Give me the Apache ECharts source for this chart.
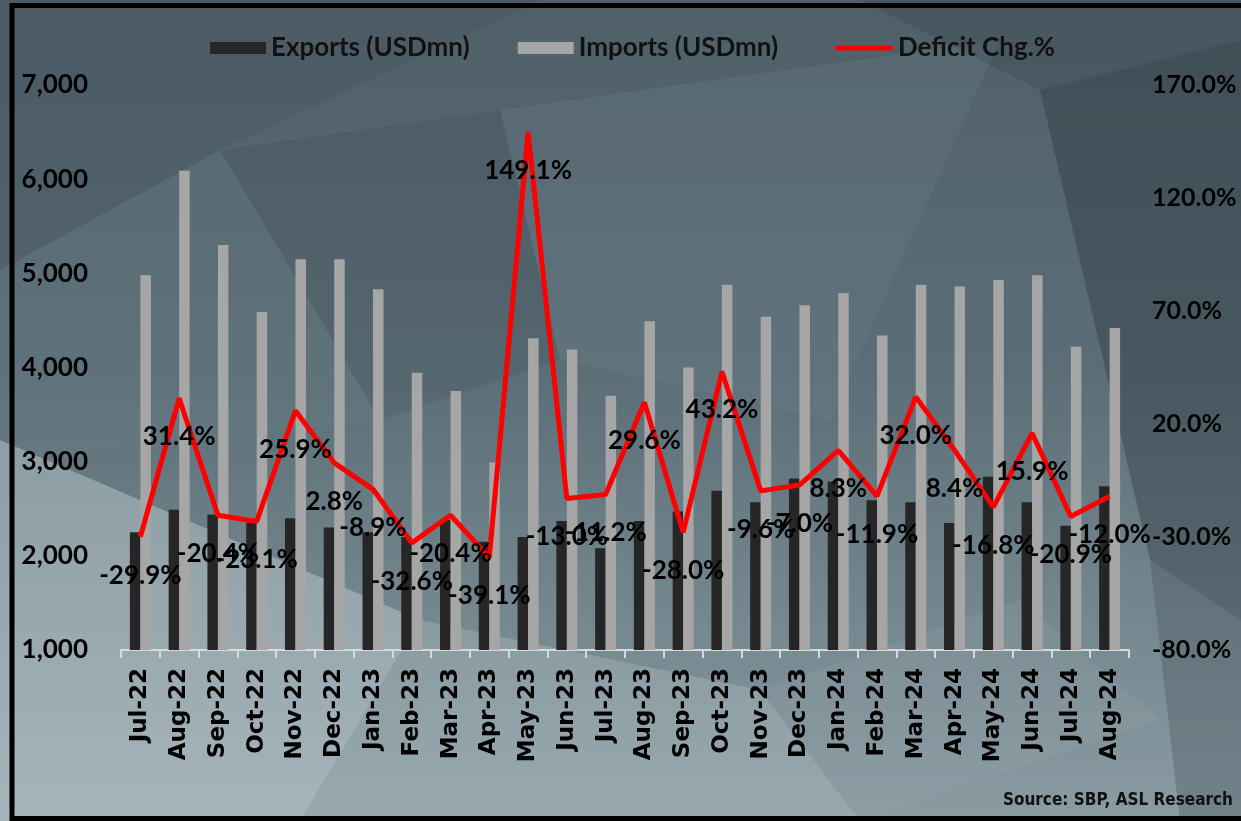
<!DOCTYPE html>
<html>
<head>
	<meta charset="utf-8">
	<title>Exports, Imports and Deficit change</title>
	<script src="https://cdn.jsdelivr.net/npm/echarts@6/dist/echarts.min.js"></script>
	<style>
		html, body { margin: 0; padding: 0; background: #55666f; }
		#chart { width: 1241px; height: 821px; }
	</style>
</head>
<body>
	<div id="chart"></div>
	<script>
		// months on the x axis
		var months = ['Jul-22', 'Aug-22', 'Sep-22', 'Oct-22', 'Nov-22', 'Dec-22', 'Jan-23', 'Feb-23', 'Mar-23',
			'Apr-23', 'May-23', 'Jun-23', 'Jul-23', 'Aug-23', 'Sep-23', 'Oct-23', 'Nov-23', 'Dec-23',
			'Jan-24', 'Feb-24', 'Mar-24', 'Apr-24', 'May-24', 'Jun-24', 'Jul-24', 'Aug-24']

		// USD mn
		var exportsData = [2250, 2490, 2440, 2350, 2400, 2300, 2250, 2200, 2380, 2150, 2200, 2370, 2080,
			2370, 2470, 2690, 2570, 2820, 2790, 2590, 2570, 2350, 2840, 2570, 2320, 2740]
		var importsData = [4980, 6090, 5300, 4590, 5150, 5150, 4830, 3945, 3750, 2990, 4310, 4190, 3700,
			4490, 4000, 4880, 4540, 4660, 4790, 4340, 4880, 4860, 4930, 4980, 4220, 4420]

		// deficit change, %
		var deficitChg = [-29.9, 31.4, -20.4, -23.1, 25.9, 2.8, -8.9, -32.6, -20.4, -39.1, 149.1, -13.0, -11.2,
			29.6, -28.0, 43.2, -9.6, -7.0, 8.3, -11.9, 32.0, 8.4, -16.8, 15.9, -20.9, -12.0]

		// right axis tick labels
		var pctTicks = [-80, -30, 20, 70, 120, 170]

		var mainFont = 'Lato'
		var chart = echarts.init(document.getElementById('chart'))

		// low-poly backdrop, decoration only
		function poly(pts, fill) {
			return { type: 'polygon', z: -10, silent: true, shape: { points: pts }, style: { fill: fill } }
		}

		var backdrop = [
			{
				type: 'rect', z: -11, silent: true,
				shape: { x: 0, y: 0, width: 1241, height: 821 },
				style: {
					fill: new echarts.graphic.LinearGradient(0, 0, 0, 1, [
						{ offset: 0, color: '#4f5f68' },
						{ offset: 0.45, color: '#5b6e77' },
						{ offset: 1, color: '#8a9ca2' }
					])
				}
			},
			poly([[0, 0], [540, 0], [220, 150], [0, 270]], 'rgba(62,76,86,0.25)'),
			poly([[0, 270], [220, 150], [380, 420], [0, 460]], 'rgba(110,135,145,0.18)'),
			poly([[0, 440], [420, 620], [300, 821], [0, 821]], 'rgba(205,218,222,0.40)'),
			poly([[300, 821], [420, 620], [760, 690], [860, 821]], 'rgba(185,200,204,0.30)'),
			poly([[500, 110], [1000, 40], [830, 420], [560, 360]], 'rgba(125,145,155,0.16)'),
			poly([[220, 150], [500, 110], [560, 360], [380, 420]], 'rgba(55,68,80,0.18)'),
			poly([[760, 690], [1020, 600], [1160, 720], [860, 821]], 'rgba(150,166,172,0.22)'),
			poly([[1040, 90], [1241, 40], [1241, 620], [1150, 560]], 'rgba(38,46,56,0.36)'),
			poly([[1150, 560], [1241, 620], [1241, 821], [1180, 821]], 'rgba(60,72,82,0.30)'),
			poly([[860, 0], [1241, 0], [1241, 40], [1040, 90]], 'rgba(45,55,65,0.22)'),
			{
				type: 'text', right: 8, top: 792, z: 10,
				style: {
					text: 'Source: SBP, ASL Research',
					fill: '#111',
					font: 'bold 17px "DejaVu Sans Condensed", "Liberation Sans Narrow", sans-serif'
				}
			},
			{
				type: 'rect', z: 100, silent: true,
				shape: { x: 12, y: 5.5, width: 1260, height: 813 },
				style: { fill: 'none', stroke: '#000', lineWidth: 5 }
			}
		]

		var opt = {
			animation: false,
			graphic: backdrop,
			grid: { left: 121, right: 112, top: 85, bottom: 171 },
			legend: [
				{
					data: ['Exports (USDmn)', 'Imports (USDmn)'],
					left: 210, top: 35, padding: 0,
					icon: 'rect', itemWidth: 56, itemHeight: 12, itemGap: 48,
					textStyle: { fontFamily: mainFont, fontWeight: 'bold', fontSize: 26, color: '#111' }
				},
				{
					data: ['Deficit Chg.%'],
					left: 835, top: 35, padding: 0,
					icon: 'roundRect', itemWidth: 58, itemHeight: 5,
					textStyle: { fontFamily: mainFont, fontWeight: 'bold', fontSize: 26, color: '#111' }
				}
			],
			xAxis: {
				type: 'category',
				data: months,
				axisLine: { onZero: false, lineStyle: { color: '#d9d9d9', width: 2 } },
				axisTick: { show: true, length: 8, lineStyle: { color: '#d9d9d9', width: 2 } },
				axisLabel: {
					rotate: 90, margin: 18, interval: 0,
					fontFamily: 'DejaVu Sans', fontWeight: 'bold', fontSize: 23, color: '#000'
				}
			},
			yAxis: [
				{
					type: 'value', min: 1000, max: 7000, interval: 1000,
					splitLine: { show: false },
					axisLine: { show: false }, axisTick: { show: false },
					axisLabel: {
						margin: 33, color: '#000',
						fontFamily: mainFont, fontWeight: 'bold', fontSize: 26,
						formatter: function (v) { return v.toLocaleString('en-US') }
					}
				},
				{
					type: 'value', min: -80, max: 170, interval: 50,
					splitLine: { show: false },
					axisLine: { show: false }, axisTick: { show: false },
					axisLabel: {
						margin: 23, color: '#000',
						customValues: pctTicks,
						fontFamily: mainFont, fontWeight: 'bold', fontSize: 25,
						formatter: function (v) { return v.toFixed(1) + '%' }
					}
				}
			],
			series: [
				{
					name: 'Exports (USDmn)', type: 'bar', data: exportsData,
					barWidth: 10.5, barGap: '0%',
					itemStyle: { color: '#262626' }
				},
				{
					name: 'Imports (USDmn)', type: 'bar', data: importsData,
					barWidth: 10.5, barGap: '0%',
					itemStyle: { color: '#a6a6a6' }
				},
				{
					name: 'Deficit Chg.%', type: 'line', yAxisIndex: 1, data: deficitChg,
					symbol: 'circle', symbolSize: 1, showSymbol: true,
					lineStyle: { color: '#ff0000', width: 5 },
					itemStyle: { color: '#ff0000' },
					z: 5,
					label: {
						show: true, position: 'bottom', distance: 25,
						color: '#000', fontFamily: mainFont, fontWeight: 'bold', fontSize: 26,
						formatter: function (p) { return p.value.toFixed(1) + '%' }
					}
				}
			]
		}

		chart.setOption(opt)
	</script>
</body>
</html>
